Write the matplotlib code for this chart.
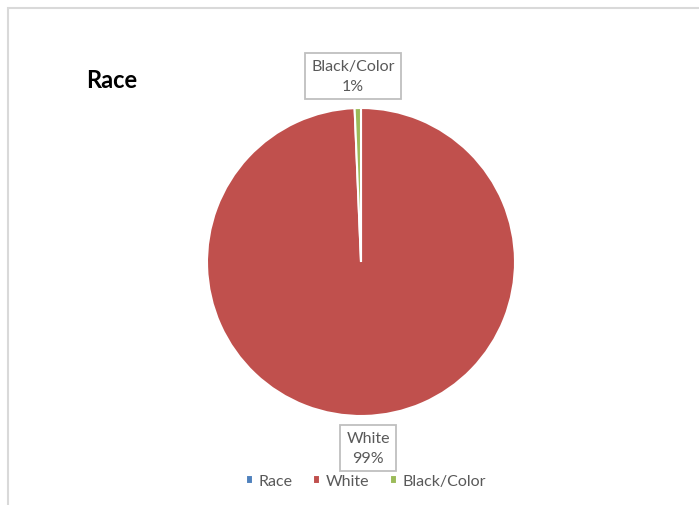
import matplotlib.pyplot as plt
from matplotlib.patches import Rectangle

# data
categories = ['Race', 'White', 'Black/Color']
values = [0, 150, 1]
colors = ['#4F81BD', '#C0504D', '#9BBB59']
pct_labels = ['', 'White\n99%', 'Black/Color\n1%']

plt.rcParams['font.family'] = ['Lato', 'DejaVu Sans']

W, H = 699, 506
fig = plt.figure(figsize=(W / 100, H / 100), dpi=100)

# chart area border (Excel style)
fig.add_artist(Rectangle((8 / W, -0.1), 1.1, 1 - 9 / H + 0.1, transform=fig.transFigure,
                         fill=False, edgecolor='#D9D9D9', linewidth=1.5))

# pie area
cx, cy, r = 361, 263, 154
ax = fig.add_axes([(cx - r) / W, (H - cy - r) / H, 2 * r / W, 2 * r / H])
wedges, _ = ax.pie(values, colors=colors, startangle=90, counterclock=False,
                   wedgeprops=dict(edgecolor='white', linewidth=1.5))
ax.set_xlim(-1, 1)
ax.set_ylim(-1, 1)
ax.set_aspect('equal')
ax.axis('off')

# data labels with boxes
box = dict(boxstyle='square,pad=0.4', facecolor='white', edgecolor='#BFBFBF', linewidth=1.3)
fig.text(353 / W, 1 - 77 / H, pct_labels[2], ha='center', va='center', fontsize=11.5,
         color='#595959', linespacing=1.55, bbox=box)
fig.text(368 / W, 1 - 449 / H, pct_labels[1], ha='center', va='center', fontsize=11.5,
         color='#595959', linespacing=1.55, bbox=box)

# title
fig.text(86 / W, 1 - 80 / H, 'Race', ha='left', va='center', fontsize=17,
         fontweight='bold', color='black')

# legend
fig.legend(wedges, categories, loc='center', bbox_to_anchor=(366 / W, 1 - 482 / H),
           ncol=3, frameon=False, fontsize=11.5, labelcolor='#595959',
           handlelength=0.45, handleheight=0.45, handletextpad=0.35, columnspacing=1.3)

fig.savefig('out.png', dpi=100)
